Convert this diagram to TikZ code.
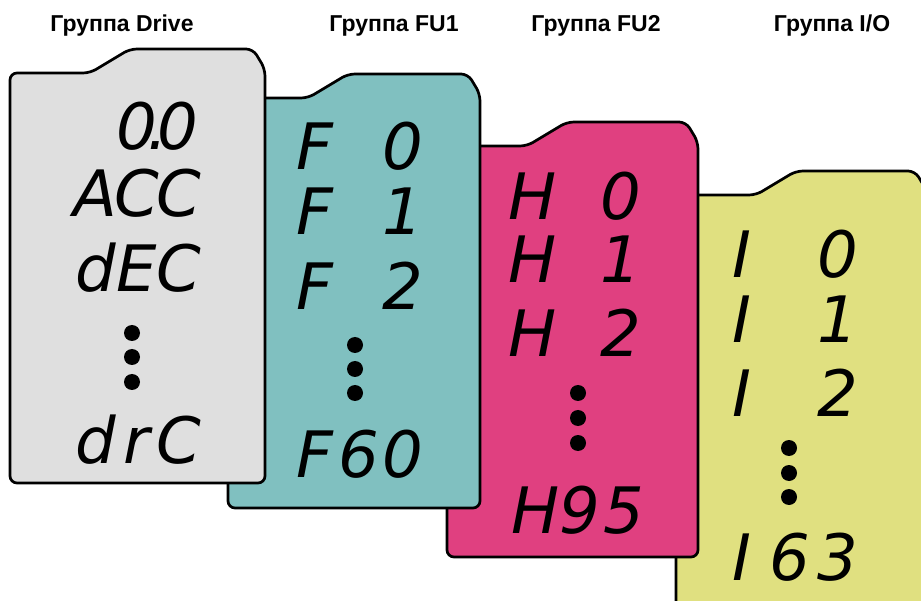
\documentclass[tikz,border=0pt]{standalone}
\usepackage{fontspec}
\setmainfont{Liberation Sans}
\newfontfamily\dispfont{DejaVu Sans}
\definecolor{cgray}{RGB}{223,223,223}
\definecolor{ccyan}{RGB}{128,192,192}
\definecolor{cpink}{RGB}{224,64,128}
\definecolor{cyell}{RGB}{224,224,128}
\newcommand\trio[4]{\makebox[#1][c]{#2}\makebox[#1][c]{#3}\makebox[#1][c]{#4}}
\newcommand\cardshape[5]{%
  \draw[cardline, fill=#5] (#1+40,#2) -- (#1,#2) -- (#1,#4) -- (#3,#4) -- (#3,#2-4)
    -- (#3-12,#2-24) -- (#1+120,#2-24) -- (#1+80,#2) -- cycle;}
\tikzset{
  cardline/.style={draw=black, line width=2.7pt, rounded corners=7pt, line join=round},
  disp/.style={font=\dispfont\itshape\fontsize{64}{64}\selectfont, anchor=base, inner sep=0pt},
  ttl/.style={font=\bfseries\fontsize{23}{23}\selectfont, anchor=base, inner sep=0pt},
  segdot/.style={circle, fill=black, minimum size=16pt, inner sep=0pt}
}
\begin{document}
\begin{tikzpicture}[x=1pt,y=-1pt]
\useasboundingbox (0,0) rectangle (921,601);
\fill[white] (0,0) rectangle (921,601);
\clip (0,0) rectangle (921,601);
% titles
\node[ttl] (t1) at (122,32) {Группа Drive};
\node[ttl] (t2) at (394,32) {Группа FU1};
\node[ttl] (t3) at (596,32) {Группа FU2};
\node[ttl] (t4) at (832,32) {Группа I/O};
% yellow card (I/O)
\cardshape{676}{195}{927}{660}{cyell}
\node[disp] (y1) at (790,278) {\trio{48pt}{I}{ }{0}};
\node[disp] (y2) at (790,343) {\trio{48pt}{I}{ }{1}};
\node[disp] (y3) at (790,417) {\trio{48pt}{I}{ }{2}};
\node[segdot] (yd1) at (789,448) {};
\node[segdot] (yd2) at (789,473) {};
\node[segdot] (yd3) at (789,497) {};
\node[disp] (y4) at (790,580) {\trio{48pt}{I}{6}{3}};
% pink card (FU2)
\cardshape{447}{146}{698}{557}{cpink}
\node[disp] (p1) at (577,220) {\trio{44pt}{H}{ }{0}};
\node[disp] (p2) at (577,283) {\trio{44pt}{H}{ }{1}};
\node[disp] (p3) at (577,357) {\trio{44pt}{H}{ }{2}};
\node[segdot] (pd1) at (578,393) {};
\node[segdot] (pd2) at (578,418) {};
\node[segdot] (pd3) at (578,443) {};
\node[disp] (p4) at (580,533) {\trio{44pt}{H}{9}{5}};
% cyan card (FU1)
\cardshape{228}{98}{480}{508}{ccyan}
\node[disp] (c1) at (359,170) {\trio{44pt}{F}{ }{0}};
\node[disp] (c2) at (359,235) {\trio{44pt}{F}{ }{1}};
\node[disp] (c3) at (359,310) {\trio{44pt}{F}{ }{2}};
\node[segdot] (cd1) at (355,345) {};
\node[segdot] (cd2) at (355,369) {};
\node[segdot] (cd3) at (355,393) {};
\node[disp] (c4) at (359,477) {\trio{44pt}{F}{6}{0}};
% gray card (Drive)
\cardshape{10}{73}{265}{483}{cgray}
\node[disp] (g1) at (157.5,150) {0\kern-10pt.\kern-10pt0};
\node[disp] (g2) at (137,217) {\trio{41.5pt}{A}{C}{C}};
\node[disp] (g3) at (137,292) {\trio{41.5pt}{d}{E}{C}};
\node[segdot] (gd1) at (132,333) {};
\node[segdot] (gd2) at (132,357) {};
\node[segdot] (gd3) at (132,382) {};
\node[disp] (g4) at (137,463) {\trio{41.5pt}{d}{r}{C}};
\end{tikzpicture}
\end{document}
